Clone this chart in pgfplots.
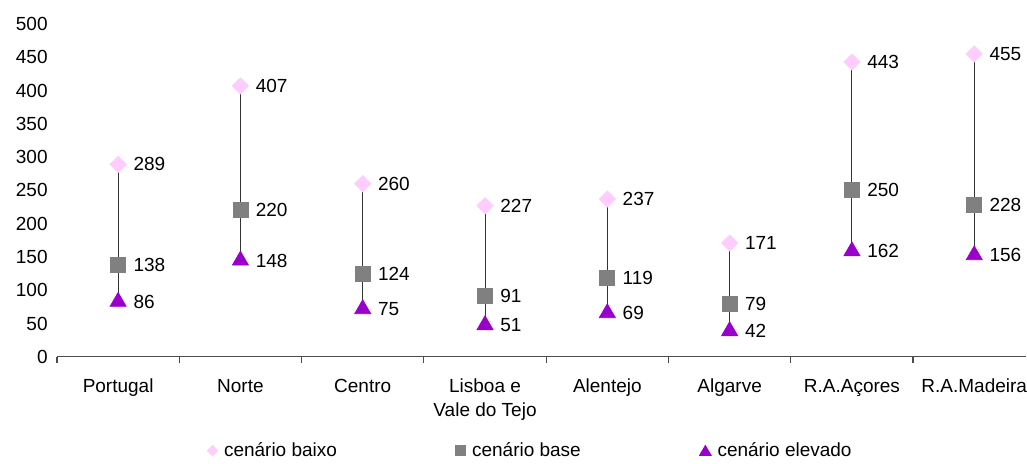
\documentclass[border=0pt]{standalone}
\usepackage{fontspec}
\setmainfont{Liberation Sans}
\usepackage{pgfplots}
\usepackage{pgfplotstable}
\pgfplotsset{compat=1.18}

\definecolor{cbaixo}{HTML}{FFCCFF}
\definecolor{cbase}{HTML}{808080}
\definecolor{celevado}{HTML}{9900CC}

% x baixo base elevado
\pgfplotstableread{
x baixo base elevado
0 289 138 86
1 407 220 148
2 260 124 75
3 227 91 51
4 237 119 69
5 171 79 42
6 443 250 162
7 455 228 156
}\dados

\begin{document}
\begin{tikzpicture}[font=\fontsize{9.5}{12}\selectfont]
% moldura invisivel com as proporcoes da figura original
\path (-28.5pt,-49.5pt) rectangle (485pt,178.5pt);
\begin{axis}[
    at={(0,0)}, anchor=south west,
    scale only axis,
    width=485pt, height=166.5pt,
    xmin=-0.5, xmax=7.4265,
    ymin=0, ymax=500,
    ytick={0,50,100,150,200,250,300,350,400,450,500},
    xtick={0,1,2,3,4,5,6,7},
    minor xtick={-0.5,0.5,1.5,2.5,3.5,4.5,5.5,6.5},
    xticklabels={Portugal, Norte, Centro, {Lisboa e\\Vale do Tejo}, Alentejo, Algarve, R.A.Açores, R.A.Madeira},
    xticklabel style={align=center, inner sep=0pt, anchor=north, yshift=-11pt},
    yticklabel style={inner sep=0pt, anchor=east, xshift=-4.5pt},
    /pgf/number format/assume math mode=true,
    axis x line*=bottom, axis y line*=left,
    y axis line style={draw=none},
    ytick style={draw=none},
    x axis line style={black!70, line width=0.6pt},
    xtick style={black!70, line width=0.6pt},
    tick align=outside, major tick length=0pt, minor tick length=3pt,
    nodes near coords style={anchor=west, inner sep=0pt, xshift=7.5pt, text=black},
    legend style={at={(0.148,-0.282)}, anchor=west, draw=none, fill=none,
        legend columns=-1, nodes={inner sep=0pt},
        /tikz/every odd column/.append style={column sep=3pt},
        /tikz/every even column/.append style={column sep=59.2pt}},
]
% linhas entre cenario elevado e baixo
\addplot[draw=none, forget plot,
    error bars/.cd, y dir=plus, y explicit, error mark=none,
    error bar style={black!80, line width=0.5pt}]
    table[x=x, y=elevado, y error expr=\thisrow{baixo}-\thisrow{elevado}] {\dados};

\addplot[only marks, mark=square*, mark size=2.83pt,
    mark options={rotate=45, fill=cbaixo, draw=cbaixo},
    nodes near coords,
    legend image code/.code={\fill[cbaixo] (0,2.6pt) -- (2.6pt,0) -- (0,-2.6pt) -- (-2.6pt,0) -- cycle;}]
    table[x=x, y=baixo] {\dados};
\addplot[only marks, mark=square*, mark size=3.75pt,
    mark options={fill=cbase, draw=cbase},
    nodes near coords,
    legend image code/.code={\fill[cbase] (-2.5pt,-2.5pt) rectangle (2.5pt,2.5pt);}]
    table[x=x, y=base] {\dados};
\addplot[only marks, mark=triangle*, mark size=4.6pt,
    mark options={fill=celevado, draw=celevado, yshift=-1.1pt},
    nodes near coords,
    legend image code/.code={\fill[celevado] (0,2.6pt) -- (2.9pt,-2.4pt) -- (-2.9pt,-2.4pt) -- cycle;}]
    table[x=x, y=elevado] {\dados};
\legend{cenário baixo, cenário base, cenário elevado}
\end{axis}
\end{tikzpicture}
\end{document}
